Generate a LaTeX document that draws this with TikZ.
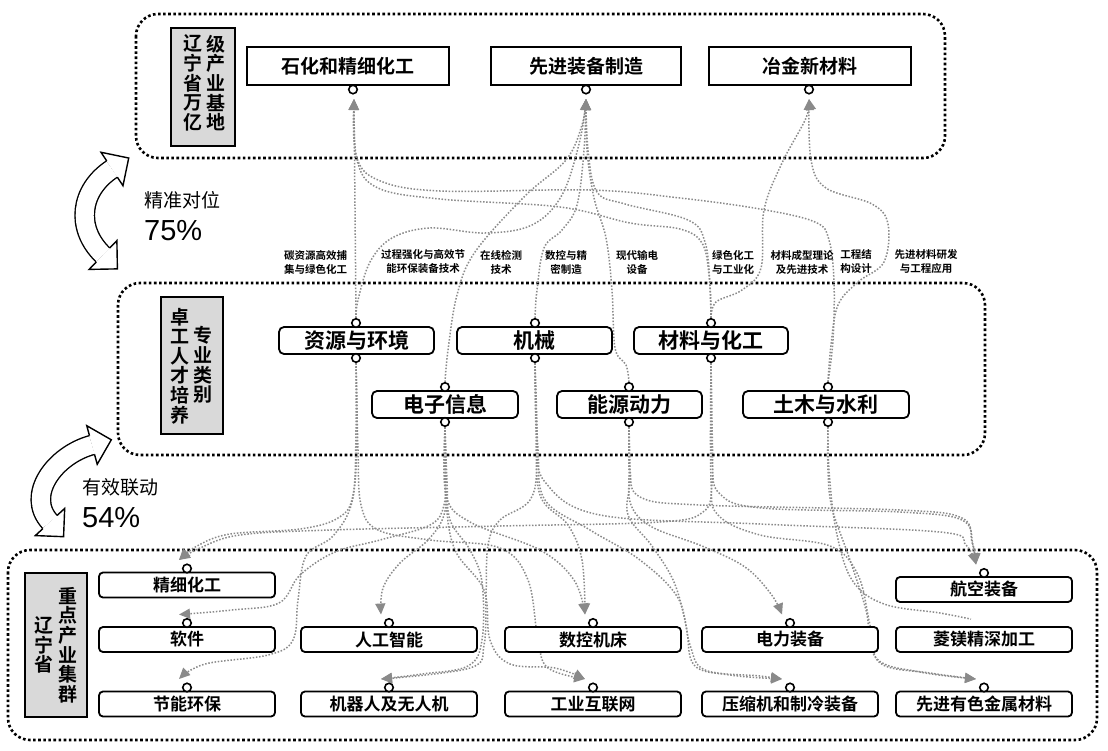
\documentclass[tikz,border=0pt]{standalone}
\usepackage{fontspec}
\setmainfont{Liberation Sans}
\newfontfamily\cjk[BoldFont={Noto Sans CJK SC Bold}]{Noto Sans CJK SC}
\usetikzlibrary{arrows.meta,calc}
\pgfdeclarelayer{bg}
\pgfsetlayers{bg,main}
\definecolor{linegray}{HTML}{8A8A8A}
\definecolor{boxgray}{HTML}{D9D9D9}
\tikzset{
  frame/.style={draw=black, line width=2.6pt, dash pattern=on 2.6pt off 2.5pt, rounded corners=22pt},
  graybox/.style={draw=black, line width=1.8pt, fill=boxgray, inner sep=0pt},
  vtext/.style={font=\cjk\bfseries\fontsize{19}{19.6}\selectfont, align=center, inner sep=0pt},
  topbox/.style={draw=black, line width=1.8pt, fill=white, minimum height=38pt, inner sep=0pt, font=\cjk\bfseries\fontsize{19}{20}\selectfont},
  midbox/.style={draw=black, line width=1.8pt, fill=white, rounded corners=5pt, minimum height=27pt, inner sep=0pt, font=\cjk\bfseries\fontsize{21}{22}\selectfont},
  botbox/.style={draw=black, line width=1.8pt, fill=white, rounded corners=4pt, minimum width=176pt, minimum height=25pt, inner sep=0pt, font=\cjk\bfseries\fontsize{17}{18}\selectfont},
  port/.style={circle, draw=black, line width=1.6pt, fill=white, minimum size=8.5pt, inner sep=0pt},
  conn/.style={draw=linegray, line width=1.5pt, dash pattern=on 1.5pt off 1.7pt},
  arr/.style={conn, -{Triangle[length=11pt,width=10pt]}},
  lbl/.style={font=\cjk\bfseries\fontsize{10.5}{14}\selectfont, align=center, inner sep=0pt},
  bigarrow/.style={draw=black, line width=1.4pt, fill=white, line join=miter},
  band/.style={draw=black, line width=1.4pt, double=white, double distance=18pt},
  side/.style={inner sep=0pt, anchor=west},
}
\begin{document}
\begin{tikzpicture}[x=1pt,y=-1pt]
\useasboundingbox (0,0) rectangle (1108,750);
\begin{pgfonlayer}{bg}
\fill[white] (0,0) rectangle (1108,750);
\draw[frame] (136,14) rectangle (945,158);
\draw[frame] (118,283) rectangle (985,455);
\draw[frame] (8,550) rectangle (1097,740);
\end{pgfonlayer}

% ---------- top level ----------
\node[graybox, minimum width=64pt, minimum height=118pt] (g1) at (203,87) {};
\node[vtext] (g1a) at (192.5,83) {辽\\宁\\省\\万\\亿};
\node[vtext] (g1b) at (215.5,83) {级\\产\\业\\基\\地};

\node[topbox, minimum width=202pt] (shihua) at (348,66) {石化和精细化工};
\node[topbox, minimum width=190pt] (xianjin) at (586,66) {先进装备制造};
\node[topbox, minimum width=202pt] (yejin) at (810,66) {冶金新材料};
\node[port] (p-shihua) at (353,89.5) {};
\node[port] (p-xianjin) at (586,89.5) {};
\node[port] (p-yejin) at (809,89.5) {};
\coordinate (a-shihua) at (354,99);
\coordinate (a-xianjin) at (586,99);
\coordinate (a-yejin) at (809,99);

% ---------- middle level ----------
\node[graybox, minimum width=62pt, minimum height=137pt] (g2) at (192,365.5) {};
\node[vtext] (g2a) at (180,366) {卓\\工\\人\\才\\培\\养};
\node[vtext] (g2b) at (203,365) {专\\业\\类\\别};

\node[midbox, minimum width=155pt] (ziyuan) at (356.5,340.5) {资源与环境};
\node[midbox, minimum width=155pt] (jixie) at (534.5,340.5) {机械};
\node[midbox, minimum width=154pt] (cailiao) at (711,340.5) {材料与化工};
\node[midbox, minimum width=146pt] (dianzi) at (445,404.5) {电子信息};
\node[midbox, minimum width=145pt] (nengyuan) at (629.5,404.5) {能源动力};
\node[midbox, minimum width=166pt] (tumu) at (826,404.5) {土木与水利};

\node[port] (pt-ziyuan) at (356,323) {};
\node[port] (pb-ziyuan) at (356,358) {};
\node[port] (pt-jixie) at (535,323) {};
\node[port] (pb-jixie) at (535,358) {};
\node[port] (pt-cailiao) at (711,323) {};
\node[port] (pb-cailiao) at (711,358) {};
\node[port] (pt-dianzi) at (445,387) {};
\node[port] (pb-dianzi) at (445,422) {};
\node[port] (pt-nengyuan) at (629,387) {};
\node[port] (pb-nengyuan) at (629,422) {};
\node[port] (pt-tumu) at (828,387) {};
\node[port] (pb-tumu) at (828,422) {};

% ---------- bottom level ----------
\node[graybox, minimum width=62pt, minimum height=144pt] (g3) at (56,645) {};
\node[vtext] (g3a) at (44,645) {辽\\宁\\省};
\node[vtext] (g3b) at (68,645) {重\\点\\产\\业\\集\\群};

\node[botbox] (jingxi) at (187,585) {精细化工};
\node[botbox] (ruanjian) at (187,639.5) {软件};
\node[botbox] (jieneng) at (187,704) {节能环保};
\node[botbox] (rengong) at (389,639.5) {人工智能};
\node[botbox] (jiqiren) at (389,704) {机器人及无人机};
\node[botbox] (shukong) at (593,639.5) {数控机床};
\node[botbox] (gongye) at (593,704) {工业互联网};
\node[botbox] (dianli) at (790,639.5) {电力装备};
\node[botbox] (yasuo) at (790,704) {压缩机和制冷装备};
\node[botbox] (hangkong) at (984,589.5) {航空装备};
\node[botbox] (linmei) at (984,639.5) {菱镁精深加工};
\node[botbox] (youse) at (984,704) {先进有色金属材料};

\node[port] (q-jingxi) at (187,568.5) {};
\node[port] (q-ruanjian) at (187,623) {};
\node[port] (q-jieneng) at (187,687.5) {};
\node[port] (q-rengong) at (389,623) {};
\node[port] (q-jiqiren) at (389,687.5) {};
\node[port] (q-shukong) at (593,623) {};
\node[port] (q-gongye) at (593,687.5) {};
\node[port] (q-dianli) at (790,623) {};
\node[port] (q-yasuo) at (790,687.5) {};
\node[port] (q-hangkong) at (984,573) {};
\node[port] (q-youse) at (984,687.5) {};

\foreach \n in {jingxi,ruanjian,jieneng,rengong,jiqiren,shukong,gongye,dianli,yasuo,hangkong,youse}
  \coordinate (t-\n) at ($(q-\n)+(-8,-8.5)$);
\coordinate (e-linmei) at ($(linmei.north)+(-13,-7)$);

% ---------- labels ----------
\node[lbl] (l1) at (315.5,262) {碳资源高效捕\\集与绿色化工};
\node[lbl] (l2) at (423,262) {过程强化与高效节\\能环保装备技术};
\node[lbl] (l3) at (501,262) {在线检测\\技术};
\node[lbl] (l4) at (566,262) {数控与精\\密制造};
\node[lbl] (l5) at (637,262) {现代输电\\设备};
\node[lbl] (l6) at (733,262) {绿色化工\\与工业化};
\node[lbl] (l7) at (802,262) {材料成型理论\\及先进技术};
\node[lbl] (l8) at (856,262) {工程结\\构设计};
\node[lbl] (l9) at (926,262) {先进材料研发\\与工程应用};

% ---------- side arrows ----------
\draw[band] (103,255) .. controls (75,228) and (80,190) .. (112,169);
\filldraw[bigarrow] (96.27,261.98) -- (89.12,269.4) -- (117.4,268.88) -- (116.88,240.6) -- (109.73,248.02);
\filldraw[bigarrow] (117.33,177.11) -- (122.98,185.72) -- (128.72,158.02) -- (101.02,152.28) -- (106.67,160.89);
\draw[band] (50,522) .. controls (25,495) and (55,455) .. (92,445);
\filldraw[bigarrow] (42.88,528.59) -- (35.32,535.58) -- (63.58,536.68) -- (64.68,508.42) -- (57.12,515.41);
\filldraw[bigarrow] (94.53,454.36) -- (97.22,464.3) -- (111.3,439.78) -- (86.78,425.7) -- (89.47,435.64);

\node[side, font=\cjk\fontsize{19}{20}\selectfont] (s1) at (144,200) {精准对位};
\node[side, font=\fontsize{29}{30}\selectfont] (s2) at (144,231) {75\%};
\node[side, font=\cjk\fontsize{19}{20}\selectfont] (s3) at (82,487) {有效联动};
\node[side, font=\fontsize{29}{30}\selectfont] (s4) at (82,518) {54\%};

% ---------- connectors ----------
\begin{pgfonlayer}{bg}
% to top level
\draw[arr] (pt-ziyuan.north) -- (a-shihua);
\draw[arr] plot[smooth,tension=.6] coordinates {(pt-ziyuan.north) (358,300) (370,262) (392,238) (430,228) (485,233) (532,225) (562,195) (580,140) (a-xianjin)};
\draw[arr] plot[smooth,tension=.6] coordinates {(pt-dianzi.north) (448,350) (457,295) (475,252) (525,196) (566,160) (582,125) (a-xianjin)};
\draw[arr] plot[smooth,tension=.6] coordinates {(pt-jixie.north) (537,290) (544,248) (562,230) (577,205) (584,150) (a-xianjin)};
\draw[arr] plot[smooth,tension=.6] coordinates {(pt-nengyuan.north) (626,365) (615,348) (612,290) (606,238) (594,198) (587,150) (a-xianjin)};
\draw[arr] plot[smooth,tension=.6] coordinates {(pt-cailiao.north) (710,285) (705,242) (688,220) (625,204) (597,192) (588,150) (a-xianjin)};
\draw[arr] plot[smooth,tension=.6] coordinates {(pt-cailiao.north) (709,275) (702,243) (680,229) (630,223) (560,207) (440,199) (378,188) (357,160) (a-shihua)};
\draw[arr] plot[smooth,tension=.6] coordinates {(pt-tumu.north) (833,340) (834,282) (829,240) (815,222) (760,209) (680,198) (590,190) (440,191) (378,180) (356,155) (a-shihua)};
\draw[arr] plot[smooth,tension=.6] coordinates {(pt-cailiao.north) (716,302) (742,290) (761,268) (764,210) (782,163) (806,118) (a-yejin)};
\draw[arr] plot[smooth,tension=.6] coordinates {(pt-tumu.north) (831,345) (838,305) (858,282) (884,262) (888,224) (872,204) (826,188) (811,160) (a-yejin)};
% to bottom level
\draw[arr] plot[smooth,tension=.6] coordinates {(pb-ziyuan.south) (356,430) (353,495) (338,518) (300,529) (230,534) (197,546) (t-jingxi)};
\draw[arr] plot[smooth,tension=.6] coordinates {(pb-ziyuan.south) (357,440) (352,502) (333,536) (306,556) (298,600) (293,640) (268,655) (205,664) (t-jieneng)};
\draw[arr] plot[smooth,tension=.6] coordinates {(pb-ziyuan.south) (358,450) (361,505) (378,530) (430,540) (500,548) (528,580) (538,640) (548,668) (t-gongye)};
\draw[arr] plot[smooth,tension=.6] coordinates {(pb-cailiao.south) (712,420) (712,485) (703,512) (660,522) (500,526) (330,530) (240,535) (200,548) (t-jingxi)};
\draw[arr] plot[smooth,tension=.6] coordinates {(pb-dianzi.south) (445,470) (444,505) (430,525) (380,540) (335,552) (300,575) (279,603) (232,610) (t-ruanjian)};
\draw[arr] plot[smooth,tension=.6] coordinates {(pb-dianzi.south) (446,480) (444,515) (428,540) (400,563) (383,588) (t-rengong)};
\draw[arr] plot[smooth,tension=.6] coordinates {(pb-dianzi.south) (447,480) (450,520) (470,550) (482,582) (482,640) (468,666) (422,674) (t-jiqiren)};
\draw[arr] plot[smooth,tension=.6] coordinates {(pb-dianzi.south) (446,500) (455,550) (484,590) (490,640) (510,664) (555,668) (t-gongye)};
\draw[arr] plot[smooth,tension=.6] coordinates {(pb-dianzi.south) (446,495) (470,522) (540,550) (574,580) (t-shukong)};
\draw[arr] plot[smooth,tension=.6] coordinates {(pb-jixie.south) (536,430) (540,495) (568,525) (582,560) (t-shukong)};
\draw[arr] plot[smooth,tension=.6] coordinates {(pb-jixie.south) (537,440) (545,482) (600,515) (760,524) (940,532) (966,545) (t-hangkong)};
\draw[arr] plot[smooth,tension=.6] coordinates {(pb-jixie.south) (538,450) (545,500) (590,530) (640,560) (678,598) (690,645) (705,670) (760,676) (t-yasuo)};
\draw[arr] plot[smooth,tension=.6] coordinates {(pb-jixie.south) (537,460) (530,500) (500,520) (488,545) (486,600) (484,645) (470,668) (t-jiqiren)};
\draw[arr] plot[smooth,tension=.6] coordinates {(pb-nengyuan.south) (629,470) (631,505) (652,527) (702,546) (745,567) (771,594) (t-dianli)};
\draw[arr] plot[smooth,tension=.6] coordinates {(pb-nengyuan.south) (630,480) (628,515) (652,546) (674,582) (686,625) (694,665) (730,675) (t-yasuo)};
\draw[arr] plot[smooth,tension=.6] coordinates {(pb-nengyuan.south) (630,470) (640,497) (700,505) (900,510) (962,518) (972,542) (t-hangkong)};
\draw[arr] plot[smooth,tension=.6] coordinates {(pb-tumu.south) (828,470) (832,508) (850,560) (866,610) (876,658) (920,672) (t-youse)};
\draw[conn] plot[smooth,tension=.6] coordinates {(pb-tumu.south) (829,470) (836,530) (852,580) (884,604) (940,613) (e-linmei)};
\draw[arr] plot[smooth,tension=.6] coordinates {(pb-cailiao.south) (711,480) (718,515) (760,535) (830,546) (858,575) (870,625) (880,663) (930,673) (t-youse)};
\draw[arr] plot[smooth,tension=.6] coordinates {(pb-cailiao.south) (712,460) (720,494) (762,508) (900,512) (962,520) (973,545) (t-hangkong)};
\end{pgfonlayer}
\end{tikzpicture}
\end{document}
